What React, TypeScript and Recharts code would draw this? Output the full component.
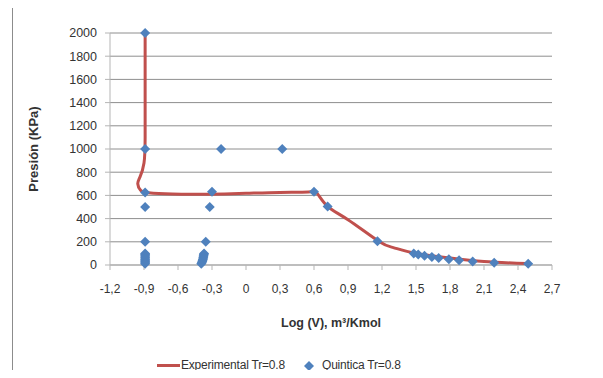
import {
  CartesianGrid,
  Legend,
  Scatter,
  ScatterChart,
  XAxis,
  YAxis
} from "recharts";

// Experimental curve (Log V, P)
const expLogV = [-0.89, -0.89, -0.89, -0.9, -0.935, -0.955, -0.93, -0.86, -0.65, -0.35, 0, 0.3, 0.55, 0.63, 0.72, 0.9, 1.17, 1.3, 1.48, 1.8, 2.1, 2.48];
const expP = [2000, 1500, 1100, 880, 760, 700, 645, 622, 611, 610, 618, 626, 630, 615, 505, 390, 205, 150, 104, 60, 30, 12];

// Quintica points
const quinLogV = [
  -0.89, -0.89, -0.22, 0.32,
  -0.89, -0.3, 0.6,
  -0.89, -0.32, 0.72,
  -0.89, -0.355, 1.16,
  -0.89, -0.89, -0.89, -0.89, -0.89, -0.89, -0.89, -0.89, -0.89, -0.89,
  -0.37, -0.372, -0.374, -0.376, -0.378, -0.38, -0.383, -0.386, -0.39, -0.395,
  1.48, 1.52, 1.575, 1.64, 1.7, 1.79, 1.88, 2.0, 2.19, 2.49
];
const quinP = [
  2000, 1000, 1000, 1000,
  625, 632, 632,
  500, 500, 505,
  200, 200, 205,
  100, 90, 80, 70, 60, 50, 40, 30, 20, 10,
  100, 90, 80, 70, 60, 50, 40, 30, 20, 10,
  100, 90, 80, 70, 60, 50, 40, 30, 20, 10
];

const xTicks = [-1.2, -0.9, -0.6, -0.3, 0, 0.3, 0.6, 0.9, 1.2, 1.5, 1.8, 2.1, 2.4, 2.7];
const yTicks = [0, 200, 400, 600, 800, 1000, 1200, 1400, 1600, 1800, 2000];

const LINE_COLOR = "#C0504D";
const POINT_COLOR = "#4F81BD";
const TEXT = "#333333";
const FONT = "'Liberation Sans', Arial, sans-serif";

const expData = expLogV.map((x, i) => ({ x, y: expP[i] }));
const quinData = quinLogV.map((x, i) => ({ x, y: quinP[i] }));

const fmtX = (v: number) => (v === 0 ? "0" : v.toFixed(1).replace(".", ","));

function Diamond(props: any) {
  const { cx, cy } = props;
  if (cx == null || cy == null) return null;
  const r = 5;
  return (
    <polygon
      points={`${cx},${cy - r} ${cx + r},${cy} ${cx},${cy + r} ${cx - r},${cy}`}
      fill={POINT_COLOR}
    />
  );
}

function LegendBox() {
  return (
    <div style={{ position: "relative", height: 20, fontSize: 12, color: TEXT, fontFamily: FONT, letterSpacing: -0.2, whiteSpace: "nowrap" }}>
      <div style={{ position: "absolute", left: 157, top: 7, width: 23, height: 3, background: LINE_COLOR }} />
      <span style={{ position: "absolute", left: 181, top: 1 }}>Experimental Tr=0.8</span>
      <svg style={{ position: "absolute", left: 303, top: 3 }} width={12} height={12}>
        <polygon points="6,1 11,6 6,11 1,6" fill={POINT_COLOR} />
      </svg>
      <span style={{ position: "absolute", left: 322, top: 1 }}>Quintica Tr=0.8</span>
    </div>
  );
}

function YTitle(props: any) {
  const { viewBox } = props;
  const cy = viewBox.y + viewBox.height / 2;
  return (
    <text
      x={33}
      y={cy}
      transform={`rotate(-90, 33, ${cy})`}
      textAnchor="middle"
      dominantBaseline="central"
      fontWeight="bold"
      fontSize={13}
      fill={TEXT}
      fontFamily={FONT}
    >
      Presión (KPa)
    </text>
  );
}

export default function App() {
  return (
    <div
      style={{
        position: "relative",
        width: 603,
        height: 378,
        margin: -8,
        overflow: "hidden",
        background: "#fff",
        fontFamily: FONT
      }}
    >
      <div
        style={{
          position: "absolute",
          left: 12,
          top: 6,
          width: 589,
          height: 400,
          border: "1px solid #8c8c8c"
        }}
      />
      <div style={{ position: "absolute", left: 0, top: 0 }}>
        <ScatterChart width={603} height={378} margin={{ top: 33, right: 51, left: 0, bottom: 43 }}>
          <CartesianGrid vertical={false} stroke="#8e8e8e" />
          <XAxis
            type="number"
            dataKey="x"
            domain={[-1.2, 2.7]}
            ticks={xTicks}
            tickFormatter={fmtX}
            interval={0}
            height={70}
            stroke="#b5b5b5"
            tickSize={5}
            tickMargin={14}
            tick={{ fill: TEXT, fontSize: 12, fontFamily: FONT }}
            label={{
              value: "Log (V), m³/Kmol",
              position: "insideBottom",
              offset: 8,
              fontWeight: "bold",
              fontSize: 12.5,
              fill: TEXT,
              fontFamily: FONT
            }}
          />
          <YAxis
            type="number"
            dataKey="y"
            domain={[0, 2000]}
            ticks={yTicks}
            interval={0}
            width={110}
            stroke="#b5b5b5"
            tickSize={5}
            tickMargin={8}
            tick={{ fill: TEXT, fontSize: 12.5, fontFamily: FONT }}
            label={{ content: YTitle }}
          />
          <Legend
            verticalAlign="middle"
            align="center"
            wrapperStyle={{ top: 357, left: 0, width: 603 }}
            content={LegendBox}
          />
          <Scatter
            name="Experimental Tr=0.8"
            data={expData}
            line={{ stroke: LINE_COLOR, strokeWidth: 3 }}
            lineJointType="natural"
            shape={() => null}
            legendType="line"
            isAnimationActive={false}
          />
          <Scatter
            name="Quintica Tr=0.8"
            data={quinData}
            shape={Diamond}
            legendType="diamond"
            isAnimationActive={false}
          />
        </ScatterChart>
      </div>
    </div>
  );
}
